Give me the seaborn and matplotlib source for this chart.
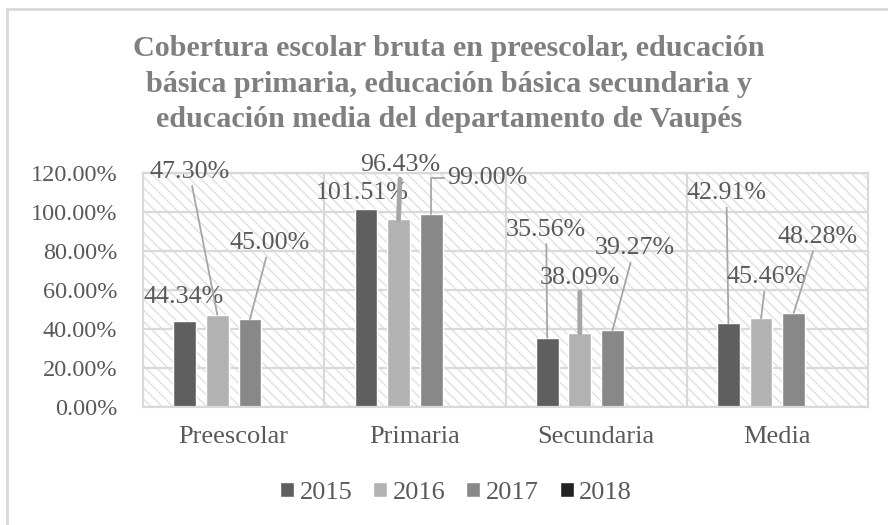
import numpy as np
import pandas as pd
import matplotlib.pyplot as plt
import seaborn as sns
from matplotlib.patches import Patch, Rectangle
from matplotlib.lines import Line2D

# datos
niveles = ["Preescolar", "Primaria", "Secundaria", "Media"]
anios = ["2015", "2016", "2017", "2018"]
cob_2015 = [44.34, 101.51, 35.56, 42.91]
cob_2016 = [47.30, 96.43, 38.09, 45.46]
cob_2017 = [45.00, 99.00, 39.27, 48.28]
yticks = [0, 20, 40, 60, 80, 100, 120]

titulo = ("Cobertura escolar bruta en preescolar, educación\n"
          "básica primaria, educación básica secundaria y\n"
          "educación media del departamento de Vaupés")

colores = {"2015": "#5f5f5f", "2016": "#b2b2b2", "2017": "#888888", "2018": "#222222"}
gris_texto = "#595959"
gris_linea = "#d9d9d9"

# posicion de las etiquetas (pixeles desde el tope de la barra) y ancho de la linea guia
off_2015 = [(-1, 24), (-4, 16), (-1, 108), (-2, 130)]
off_2016 = [(-28, 143), (2, 54), (0, 55), (5, 41)]
off_2017 = [(20, 76), (56, 36), (22, 82), (24, 76)]
guia_2015 = [0, 0, 1.3, 1.3]
guia_2016 = [1.3, 3.5, 3.5, 1.3]
guia_2017 = [1.3, 1.3, 1.3, 1.3]

rows = []
for anio, vals in zip(anios[:3], [cob_2015, cob_2016, cob_2017]):
    for nivel, v in zip(niveles, vals):
        rows.append({"nivel": nivel, "anio": anio, "valor": v})
df = pd.DataFrame(rows)

sns.set_theme(style="white")
plt.rcParams["font.family"] = ["Liberation Serif", "DejaVu Serif"]
plt.rcParams["hatch.color"] = "#e0e0e0"
plt.rcParams["hatch.linewidth"] = 1.0

fig = plt.figure(figsize=(8.88, 5.25), dpi=100)
ax = fig.add_axes([143 / 888, 1 - 407 / 525, 725 / 888, 234 / 525])

# fondo rayado del area de trazado
ax.add_patch(Rectangle((0, 0), 1, 1, transform=ax.transAxes, facecolor="white",
                       edgecolor="#e0e0e0", hatch="\\\\\\", lw=0, zorder=0))

ancho = 0.72
sns.barplot(data=df, x="nivel", y="valor", hue="anio", order=niveles,
            hue_order=anios, palette=colores, width=ancho, gap=0.3,
            saturation=1, legend=False, ax=ax, zorder=2)

ax.set_ylim(0, 120)
ax.set_yticks(yticks)
ax.set_yticklabels([f"{t:.2f}%" for t in yticks])
ax.set_xlabel("")
ax.set_ylabel("")
ax.set_xticks([0.5, 1.5, 2.5], minor=True)
ax.set_axisbelow(True)
ax.grid(True, axis="y", which="major", color=gris_linea, lw=1.6)
ax.grid(True, axis="x", which="minor", color=gris_linea, lw=1.6)
ax.grid(False, axis="x", which="major")
ax.tick_params(axis="both", which="both", length=0, labelcolor=gris_texto)
ax.tick_params(axis="y", pad=18.5, labelsize=17.5)
ax.tick_params(axis="x", pad=14, labelsize=19)
for s in ax.spines.values():
    s.set_color(gris_linea)
    s.set_linewidth(1.6)

# etiquetas de datos con lineas guia
paso = ancho / len(anios)
for j, (vals, offs, guias) in enumerate(zip([cob_2015, cob_2016, cob_2017],
                                            [off_2015, off_2016, off_2017],
                                            [guia_2015, guia_2016, guia_2017])):
    for i, v in enumerate(vals):
        x = i + (j - 1.5) * paso
        props = None
        if guias[i] > 0:
            props = dict(arrowstyle="-", color="#a6a6a6", lw=guias[i],
                         shrinkA=0, shrinkB=0)
            if offs[i][0] > 40:
                props["connectionstyle"] = "angle,angleA=0,angleB=90,rad=0"
        ax.annotate(f"{v:.2f}%", xy=(x, v), xytext=offs[i], textcoords="offset pixels",
                    ha="center", va="center", fontsize=18.7, color=gris_texto,
                    arrowprops=props, zorder=4)

fig.text(449 / 888, 1 - 84 / 525, titulo, ha="center", va="center",
         fontsize=21.7, fontweight="bold", color="#7f7f7f", linespacing=1.4)

handles = [Patch(facecolor=colores[a], label=a) for a in anios]
fig.legend(handles=handles, loc="center", bbox_to_anchor=(456 / 888, 1 - 493 / 525),
           ncol=4, frameon=False, handlelength=0.53, handleheight=0.53,
           handletextpad=0.2, columnspacing=0.8, fontsize=19, labelcolor=gris_texto)

# borde del grafico
fig.add_artist(Line2D([7 / 888, 1], [1 - 9 / 525, 1 - 9 / 525], color=gris_linea, lw=2))
fig.add_artist(Line2D([7 / 888, 7 / 888], [0, 1 - 9 / 525], color=gris_linea, lw=2))

fig.savefig("out.png", dpi=100)
